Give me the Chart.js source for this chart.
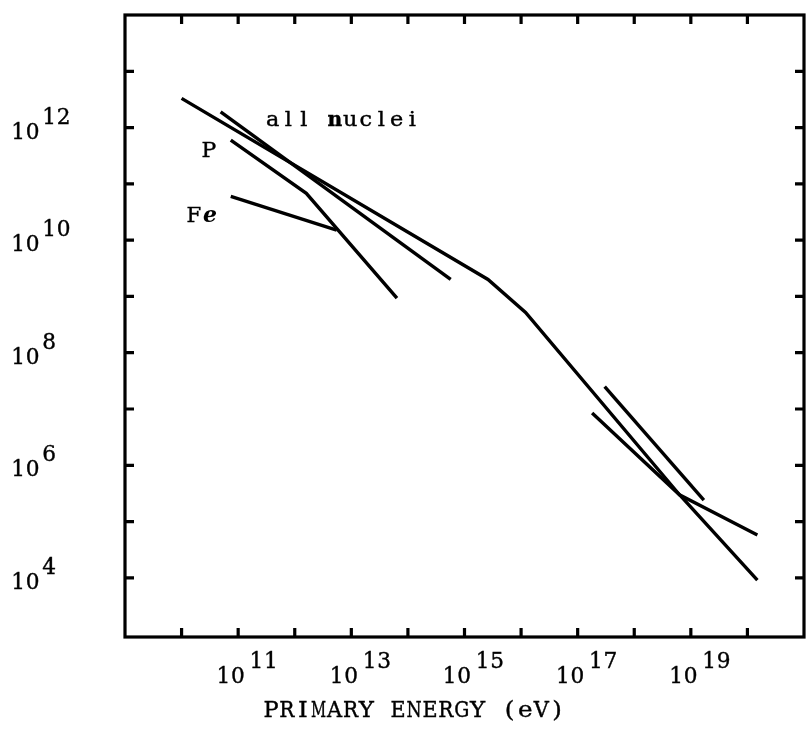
<!DOCTYPE html>
<html>
<head>
<meta charset="utf-8">
<script src="https://cdn.jsdelivr.net/npm/chart.js@4"></script>
<style>
  body { margin: 0; background: #fff; }
  #wrap { width: 808px; height: 730px; }
</style>
</head>
<body>
<div id="wrap"><canvas id="spectrum" width="808" height="730"></canvas></div>
<script>
// primary energy (eV) / flux pairs for each drawn segment
var allNucleiE = [1e10, 2.6e15, 1.2e16, 6.3e18, 1.5e20];
var allNucleiF = [3.3e12, 2.0e9, 5.2e8, 3.0e5, 9.1e3];
var directE = [4.9e10, 5.7e14];
var directF = [1.9e12, 2.0e9];
var protonE = [7.4e10, 1.6e12, 6.4e13];
var protonF = [6.0e11, 6.8e10, 9.3e8];
var ironE = [7.4e10, 5.5e12];
var ironF = [6.0e10, 1.5e10];
var highE1 = [1.8e17, 6.3e18, 1.5e20];
var highF1 = [8.5e6, 3.0e5, 5.8e4];
var highE2 = [3.0e17, 1.7e19];
var highF2 = [2.5e7, 2.4e5];

// axis ticks
var xTicks = [1e10, 1e11, 1e12, 1e13, 1e14, 1e15, 1e16, 1e17, 1e18, 1e19, 1e20];
var yTicks = [1e4, 1e5, 1e6, 1e7, 1e8, 1e9, 1e10, 1e11, 1e12, 1e13];
var xLabelExp = [11, 13, 15, 17, 19];
var yLabelExp = [4, 6, 8, 10, 12];

var FONT = '"DejaVu Serif", "Liberation Serif", serif';

function pts(e, f) {
  var out = [];
  for (var i = 0; i < e.length; i++) out.push({ x: e[i], y: f[i] });
  return out;
}

function seg(e, f) {
  return {
    data: pts(e, f),
    showLine: true,
    borderColor: '#000',
    borderWidth: 3.4,
    pointRadius: 0,
    fill: false,
    tension: 0
  };
}

// fixed-pitch lettering, one character per cell like a typewriter;
// narrow glyphs get widened a little, wide ones squeezed to fit the cell
function typeText(ctx, txt, x, y, pitch, size, boldAt) {
  ctx.textAlign = 'center';
  ctx.lineWidth = 0.4;
  for (var i = 0; i < txt.length; i++) {
    var ch = txt[i];
    if (ch === ' ') continue;
    ctx.font = (i === boldAt ? 'bold ' : '') + size + 'px ' + FONT;
    var w = ctx.measureText(ch).width;
    var sx = Math.min(1.12, (pitch * 0.95) / w);
    ctx.save();
    ctx.translate(x + pitch * (i + 0.5), y);
    ctx.scale(sx, 1);
    ctx.fillText(ch, 0, 0);
    ctx.strokeText(ch, 0, 0);
    ctx.restore();
  }
}

// frame, inward ticks and all the text
var framePlugin = {
  id: 'frame',
  afterDraw: function (chart) {
    var ctx = chart.ctx;
    var a = chart.chartArea;
    var xs = chart.scales.x, ys = chart.scales.y;
    ctx.save();
    ctx.strokeStyle = '#000';
    ctx.lineWidth = 3.2;
    ctx.strokeRect(a.left, a.top, a.right - a.left, a.bottom - a.top);

    ctx.beginPath();
    xTicks.forEach(function (v) {
      var px = xs.getPixelForValue(v);
      ctx.moveTo(px, a.bottom); ctx.lineTo(px, a.bottom - 9);
      ctx.moveTo(px, a.top); ctx.lineTo(px, a.top + 9);
    });
    yTicks.forEach(function (v) {
      var py = ys.getPixelForValue(v);
      ctx.moveTo(a.left, py); ctx.lineTo(a.left + 9, py);
      ctx.moveTo(a.right, py); ctx.lineTo(a.right - 9, py);
    });
    ctx.stroke();

    ctx.fillStyle = '#000';
    ctx.textBaseline = 'alphabetic';

    xLabelExp.forEach(function (p) {
      var px = xs.getPixelForValue(Math.pow(10, p));
      typeText(ctx, '10', px - 22, a.bottom + 46, 14.5, 23);
      typeText(ctx, String(p), px + 11, a.bottom + 31, 14.5, 23);
    });
    yLabelExp.forEach(function (p) {
      var py = ys.getPixelForValue(Math.pow(10, p));
      typeText(ctx, '10', 11, py + 11, 14.5, 23);
      typeText(ctx, String(p), 42, py - 4, 14.5, 23);
    });

    typeText(ctx, 'PRIMARY ENERGY (eV)', 263, 717, 15.9, 22);
    typeText(ctx, 'all nuclei', 265, 126, 15.5, 20, 4);
    typeText(ctx, 'P', 201, 157, 15.5, 21);
    typeText(ctx, 'F', 186, 222, 15.5, 21);
    ctx.font = 'italic bold 22px ' + FONT;
    ctx.textAlign = 'left';
    ctx.fillText('e', 203, 222);
    ctx.restore();
  }
};

new Chart(document.getElementById('spectrum').getContext('2d'), {
  type: 'scatter',
  data: {
    datasets: [
      seg(allNucleiE, allNucleiF),
      seg(directE, directF),
      seg(protonE, protonF),
      seg(ironE, ironF),
      seg(highE1, highF1),
      seg(highE2, highF2)
    ]
  },
  options: {
    responsive: false,
    animation: false,
    layout: { padding: { left: 125, top: 15, right: 4, bottom: 93 } },
    plugins: { legend: { display: false }, tooltip: { enabled: false } },
    scales: {
      x: { type: 'logarithmic', min: 1e9, max: 1e21, display: false },
      y: { type: 'logarithmic', min: 890, max: 1e14, display: false }
    }
  },
  plugins: [framePlugin]
});
</script>
</body>
</html>
